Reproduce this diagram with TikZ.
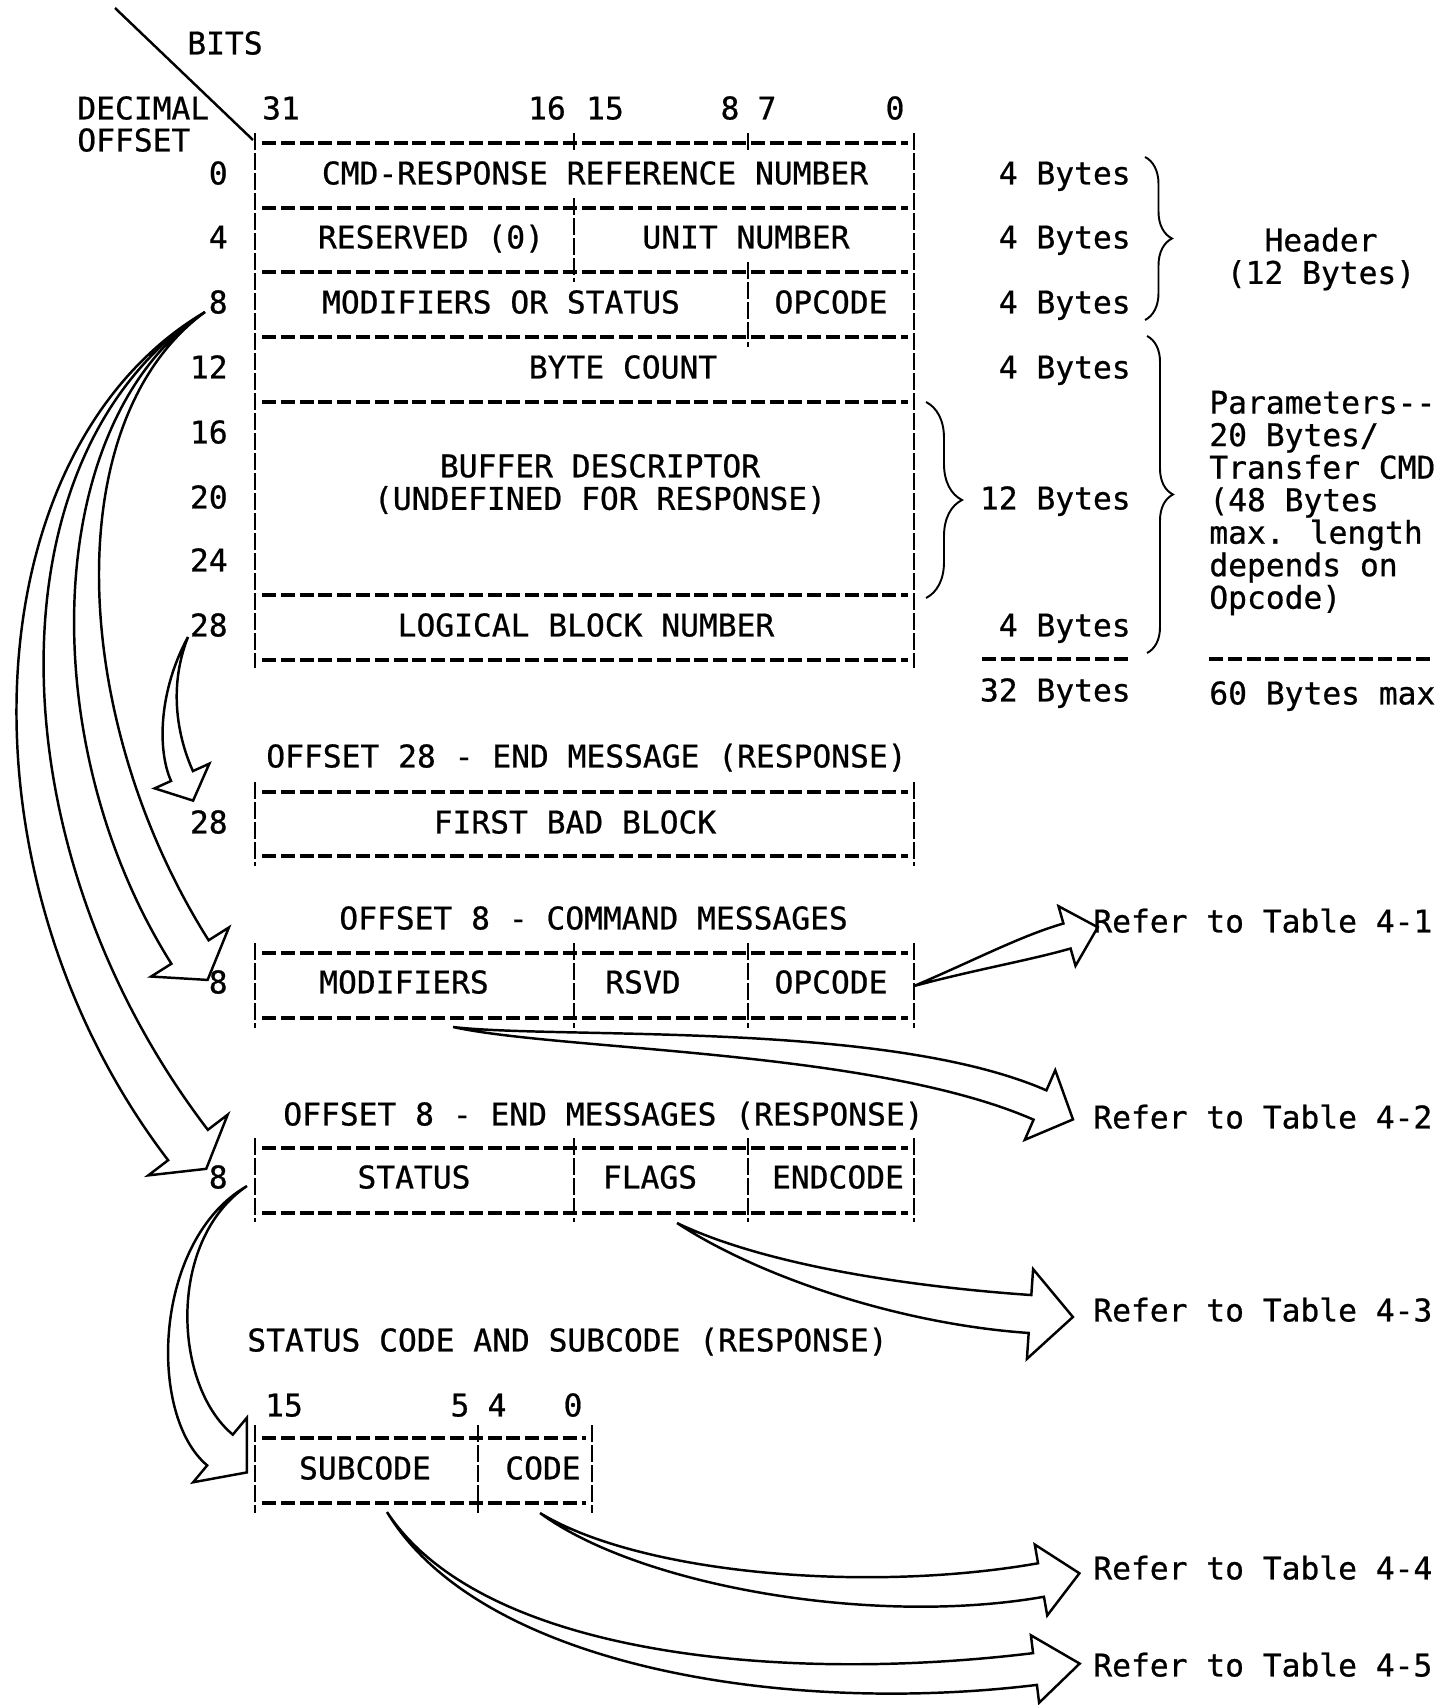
\documentclass[tikz,border=0pt]{standalone}
\usepackage{fontspec}
\usepackage{tikz}
\usetikzlibrary{calc,decorations.pathreplacing}
\newfontfamily\tw[FakeBold=0.7]{DejaVu Sans Mono}
\newcommand{\pxu}{0.2mm}
% tapered hollow arrow: tail, control 1, control 2, neck, neck half width, head half width, head length
\newcommand{\hollowarrow}[7]{%
  \draw[hollow] (#1)
    .. controls ($(#2)!0.35*#5*\pxu!90:(#3)$) and ($(#3)!#5*\pxu!90:(#4)$)
    .. ($(#4)!#5*\pxu!-90:(#3)$)
    -- ($(#4)!#6*\pxu!-90:(#3)$) -- ($(#4)!-#7*\pxu!(#3)$)
    -- ($(#4)!#6*\pxu!90:(#3)$) -- ($(#4)!#5*\pxu!90:(#3)$)
    .. controls ($(#3)!#5*\pxu!-90:(#4)$) and ($(#2)!0.35*#5*\pxu!-90:(#3)$)
    .. (#1);}

\begin{document}
\begin{tikzpicture}[x=0.2mm,y=-0.2mm,
    lbl/.style={font=\tw\fontsize{17.8pt}{18.5pt}\selectfont,inner sep=0pt,
      text height=13pt,text depth=0pt},
    blk/.style={font=\tw\fontsize{17.8pt}{18.5pt}\selectfont,inner sep=0pt},
    hline/.style={line width=2.1pt,dash pattern=on 2.8mm off 0.96mm},
    vbar/.style={line width=1.4pt,dash pattern=on 3.4mm off 0.6mm},
    brc/.style={line width=1.1pt,decorate,decoration={brace,amplitude=#1}},
    hollow/.style={line width=1.4pt,line join=miter}]
  \useasboundingbox (0,0) rectangle (1455,1705);
  \coordinate (dgtop) at (115,8);
  \coordinate (dgbot) at (253,140);
  \draw[line width=1.4pt] (dgtop) -- (dgbot);
  \node[lbl] (bits) at (225,43) {BITS};
  \node[lbl,anchor=west] (dec) at (77,108) {DECIMAL};
  \node[lbl,anchor=west] (offs) at (77,140) {OFFSET};
  \foreach \b/\x in {31/281,16/547,15/605,8/730,7/767,0/895}
    \node[lbl] (bit\b) at (\x,108) {\b};
  \foreach \o/\y in {0/173,4/237,8/302,12/367,16/432,20/497,24/560,28/625}
    \node[lbl,anchor=east] (off\o) at (228,\y) {\o};
  % dashed rules of the tables
  \foreach \y in {143,208,272,337,402,595,660,792,856,953,1018,1148,1213}
    \draw[hline] (262,\y) -- (908,\y);
  \foreach \y in {1438,1503} \draw[hline] (262,\y) -- (586,\y);
  \draw[hline] (982,659) -- (1131,659);
  \draw[hline] (1209,659) -- (1430,659);
  \foreach \x/\ya/\yb in {255/133/668,914/133/668,574/133/153,574/198/282,
      748/133/153,748/262/347,255/782/866,914/782/866,
      255/943/1028,574/943/1028,748/943/1028,914/943/1028,
      255/1138/1222,574/1138/1222,748/1138/1222,914/1138/1222,
      255/1425/1513,478/1425/1513,592/1425/1513}
    \draw[vbar] (\x,\ya) -- (\x,\yb);
  % main message
  \node[lbl] (cmdref) at (595,173) {CMD-RESPONSE REFERENCE NUMBER};
  \node[lbl] (resv) at (431,237) {RESERVED (0)};
  \node[lbl] (unit) at (746,237) {UNIT NUMBER};
  \node[lbl] (modst) at (501,302) {MODIFIERS OR STATUS};
  \node[lbl] (opc) at (831,302) {OPCODE};
  \node[lbl] (bcnt) at (623,367) {BYTE COUNT};
  \node[blk,align=center] (bufd) at (600,484)
    {BUFFER DESCRIPTOR\\(UNDEFINED FOR RESPONSE)};
  \node[lbl] (lbn) at (586,625) {LOGICAL BLOCK NUMBER};
  \foreach \y [count=\i] in {173,237,302,367,625}
    \node[lbl,anchor=east] (four\i) at (1131,\y) {4 Bytes};
  \node[lbl,anchor=east] (twelve) at (1131,498) {12 Bytes};
  \node[lbl,anchor=east] (tot) at (1131,690) {32 Bytes};
  \node[blk,align=center] (hdr) at (1321,259) {Header\\(12 Bytes)};
  \node[blk,align=left,anchor=west] (parm) at (1209,503)
    {Parameters-{}-\\20 Bytes/\\Transfer CMD\\(48 Bytes\\max. length\\depends on\\Opcode)};
  \node[lbl,anchor=west] (maxb) at (1209,693) {60 Bytes max};
  \draw[brc=5.4mm] (1145,157) -- (1145,320);
  \draw[brc=5.2mm] (1147,336) -- (1147,653);
  \draw[brc=7.2mm] (926,402) -- (926,598);
  % offset 28 end message
  \node[lbl,anchor=west] (t28) at (266,756) {OFFSET 28 - END MESSAGE (RESPONSE)};
  \node[lbl,anchor=east] (o28) at (228,822) {28};
  \node[lbl] (fbb) at (575,822) {FIRST BAD BLOCK};
  % offset 8 command messages
  \node[lbl,anchor=west] (tcmd) at (339,918) {OFFSET 8 - COMMAND MESSAGES};
  \node[lbl,anchor=east] (o8c) at (228,982) {8};
  \node[lbl] (cmod) at (404,982) {MODIFIERS};
  \node[lbl] (crsv) at (643,982) {RSVD};
  \node[lbl] (copc) at (831,982) {OPCODE};
  % offset 8 end messages
  \node[lbl,anchor=west] (tend) at (283,1114) {OFFSET 8 - END MESSAGES (RESPONSE)};
  \node[lbl,anchor=east] (o8e) at (228,1177) {8};
  \node[lbl] (estat) at (414,1177) {STATUS};
  \node[lbl] (eflg) at (650,1177) {FLAGS};
  \node[lbl] (ecode) at (838,1177) {ENDCODE};
  % status code and subcode
  \node[lbl,anchor=west] (tsts) at (247,1340) {STATUS CODE AND SUBCODE (RESPONSE)};
  \foreach \b/\x in {15/284,5/460,4/497,0/573}
    \node[lbl] (sbit\b) at (\x,1405) {\b};
  \node[lbl] (subc) at (365,1468) {SUBCODE};
  \node[lbl] (code) at (543,1468) {CODE};
  \foreach \t/\y in {1/921,2/1117,3/1310,4/1568,5/1665}
    \node[lbl,anchor=west] (ref\t) at (1093,\y) {Refer to Table 4-\t};
  % arrows
  \coordinate (ar1t) at (914,986);  \coordinate (ar1h) at (1067,936);
  \coordinate (ar2t) at (453,1027); \coordinate (ar2h) at (1040,1105);
  \coordinate (ar3t) at (677,1223); \coordinate (ar3h) at (1030,1314);
  \coordinate (ar4t) at (540,1513); \coordinate (ar4h) at (1041,1580);
  \coordinate (ar5t) at (387,1512); \coordinate (ar5h) at (1035,1669);
  \coordinate (ar6t) at (247,1186); \coordinate (ar6h) at (220,1450);
  \coordinate (ar7t) at (188,637);  \coordinate (ar7h) at (182,776);
  \coordinate (ar8t) at (205,312);  \coordinate (ar8h) at (190,952);
  \coordinate (ar9h) at (188,1145);
  \hollowarrow{ar1t}{975,965}{1025,948}{ar1h}{13}{31}{32}
  \hollowarrow{ar2t}{560,1045}{880,1035}{ar2h}{16}{38}{36}
  \hollowarrow{ar3t}{760,1270}{900,1305}{ar3h}{19}{45}{43}
  \hollowarrow{ar4t}{640,1580}{870,1610}{ar4h}{17}{36}{39}
  \hollowarrow{ar5t}{480,1660}{780,1700}{ar5h}{16}{34}{45}
  \hollowarrow{ar6t}{160,1240}{160,1400}{ar6h}{20}{42}{35}
  \hollowarrow{ar7t}{163,690}{168,745}{ar7h}{12}{30}{27}
  \hollowarrow{ar8t}{50,420}{50,730}{ar8h}{22}{46}{33}
  \hollowarrow{ar8t}{-20,450}{-30,860}{ar9h}{25}{50}{30}
\end{tikzpicture}
\end{document}
